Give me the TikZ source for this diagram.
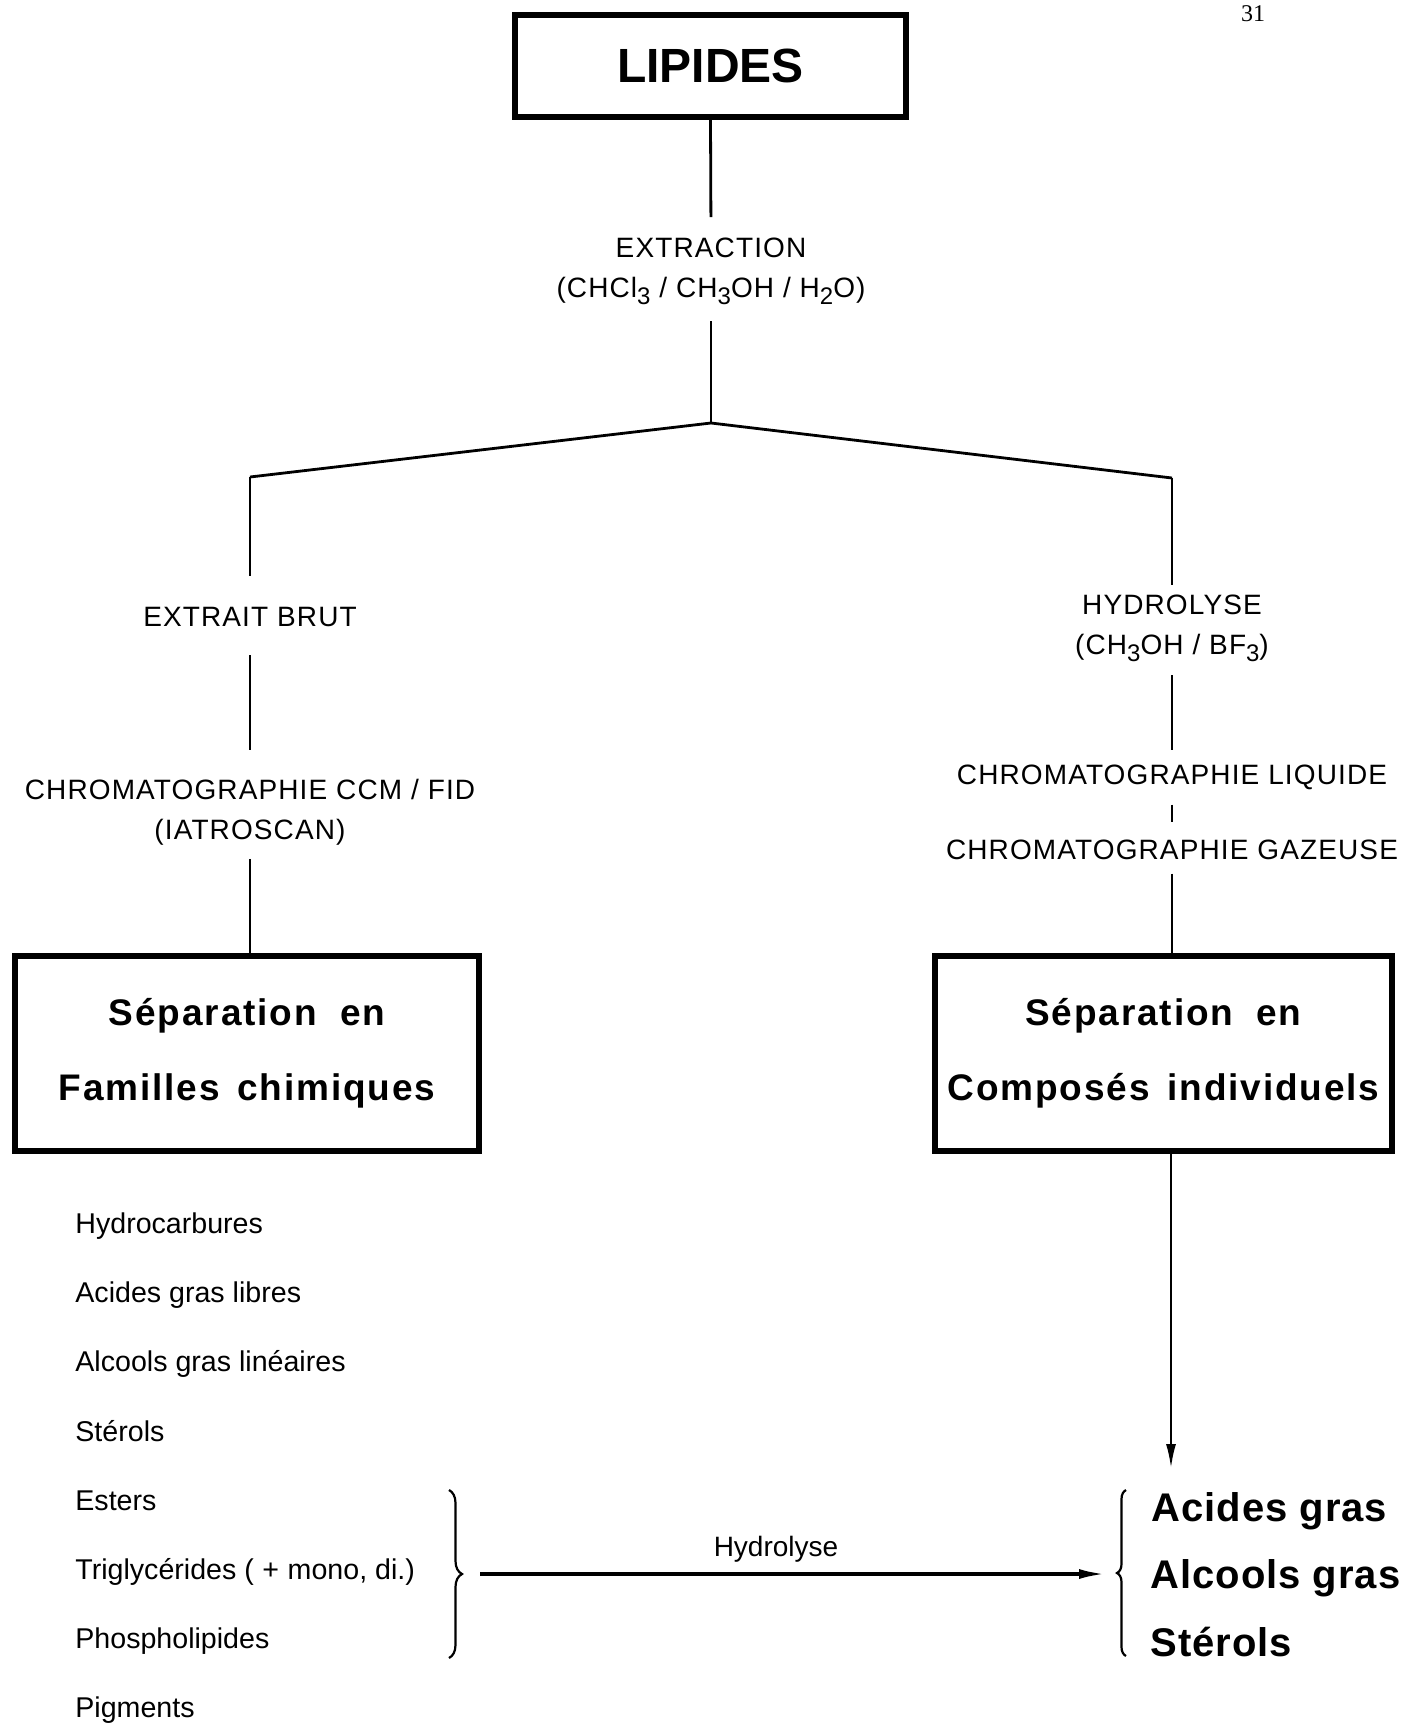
\documentclass[tikz,border=0pt]{standalone}
\usepackage{fontspec}
\setmainfont{Liberation Sans}
\newfontfamily\capsf[LetterSpace=4]{Liberation Sans}
\newfontfamily\boxf[LetterSpace=5]{Liberation Sans}
\newfontfamily\prodf[LetterSpace=2.5]{Liberation Sans}
\newfontfamily\serff{Liberation Serif}
\usetikzlibrary{arrows.meta,decorations.pathreplacing}
\newcommand\sbs[1]{\raisebox{-0.45ex}{\fontsize{12}{12}\selectfont #1}}
\begin{document}
\begin{tikzpicture}[x=0.5pt,y=-0.5pt,
  bigbox/.style={draw, line width=3pt, inner sep=0pt, align=center},
  lbl/.style={inner sep=0pt, align=center, font=\capsf\fontsize{14}{20}\selectfont},
  conn/.style={line width=1.4pt},
  item/.style={inner sep=0pt, anchor=base west, font=\fontsize{14.3}{16}\selectfont},
  prod/.style={inner sep=0pt, anchor=base west, font=\prodf\bfseries\fontsize{20}{22}\selectfont},
  brc/.style={line width=1.1pt, decorate, decoration={brace, amplitude=#1}},
  boxtext/.style={font=\boxf\bfseries\fontsize{18.5}{37.5}\selectfont}
]
\useasboundingbox (0,0) rectangle (1407,1730);

% page number
\node[inner sep=0pt, anchor=base, font=\serff\fontsize{12}{12}\selectfont] (pg) at (1253,21) {31};

% top
\node[bigbox, minimum width=195.5pt, minimum height=51pt, font=\bfseries\fontsize{24}{24}\selectfont] (lip) at (710.5,66) {\raisebox{-2pt}{LIPIDES}};
\node[lbl, anchor=north] (ext) at (711,238) {EXTRACTION\\(CHCl\sbs{3} / CH\sbs{3}OH / H\sbs{2}O)};
\coordinate (j) at (711,423);
\coordinate (jl) at (250,477);
\coordinate (jr) at (1172,478);
\draw[conn, shorten >=10.5pt] (lip.south) -- (ext.north);
\draw[conn, shorten <=8pt] (ext.south) -- (j);
\draw[conn] (jl) -- (j) -- (jr);

% left branch
\node[lbl, anchor=north] (eb) at (250,607) {EXTRAIT BRUT};
\node[lbl, anchor=north] (cc) at (250,779) {CHROMATOGRAPHIE CCM / FID\\(IATROSCAN)};
\node[bigbox, boxtext, minimum width=232pt, minimum height=97.5pt] (fam) at (247,1053.5) {Séparation\hspace{0.3em} en\\Familles\hspace{0.15em} chimiques};
\draw[conn, shorten >=15.5pt] (jl) -- (eb.north);
\draw[conn, shorten <=14pt, shorten >=14.5pt] (eb.south) -- (cc.north);
\draw[conn, shorten <=6.5pt] (cc.south) -- (cc.south |- fam.north);

% right branch
\node[lbl, anchor=north] (hyd) at (1172,595) {HYDROLYSE\\(CH\sbs{3}OH / BF\sbs{3})};
\node[lbl, anchor=north] (liq) at (1172,765) {CHROMATOGRAPHIE LIQUIDE};
\node[lbl, anchor=north] (gaz) at (1172,840) {CHROMATOGRAPHIE GAZEUSE};
\node[bigbox, boxtext, minimum width=228.5pt, minimum height=97.5pt] (comp) at (1163.5,1053.5) {Séparation\hspace{0.3em} en\\Composés\hspace{0.15em} individuels};
\draw[conn, shorten >=5pt] (jr) -- (hyd.north);
\draw[conn, shorten <=6.5pt, shorten >=7.5pt] (hyd.south) -- (liq.north);
\draw[conn, shorten <=7pt, shorten >=9pt] (liq.south) -- (gaz.north);
\draw[conn, shorten <=6.5pt] (gaz.south) -- (gaz.south |- comp.north);

% arrow down to products
\coordinate (ptop) at (1171,1468);
\draw[line width=1.1pt, -{Latex[length=12pt,width=5pt]}] (comp.south -| ptop) -- (ptop);

% list of families
\node[item] (i1) at (75,1233) {Hydrocarbures};
\node[item] (i2) at (75,1302) {Acides gras libres};
\node[item] (i3) at (75,1371) {Alcools gras linéaires};
\node[item] (i4) at (75,1441) {Stérols};
\node[item] (i5) at (75,1510) {Esters};
\node[item] (i6) at (75,1579) {Triglycérides (\hspace{0.3em}+\hspace{0.3em}mono, di.)};
\node[item] (i7) at (75,1648) {Phospholipides};
\node[item] (i8) at (75,1717) {Pigments};

% braces
\coordinate (lbt) at (449,1490);
\coordinate (lbb) at (449,1658);
\draw[brc=6.5pt] (lbt) -- (lbb);
\coordinate (rbt) at (1126,1490);
\coordinate (rbb) at (1126,1656);
\draw[brc=4.5pt] (rbb) -- (rbt);

% hydrolysis arrow
\coordinate (ha) at (480,1574);
\coordinate (hb) at (1105,1574);
\draw[line width=1.6pt, -{Latex[length=13pt,width=5pt]}] (ha) -- (hb);
\node[inner sep=0pt, anchor=base, font=\fontsize{14}{16}\selectfont] (hl) at (776,1556) {Hydrolyse};

% products
\node[prod] (p1) at (1151,1521) {Acides gras};
\node[prod] (p2) at (1150,1588) {Alcools gras};
\node[prod] (p3) at (1150,1656) {Stérols};
\end{tikzpicture}
\end{document}
